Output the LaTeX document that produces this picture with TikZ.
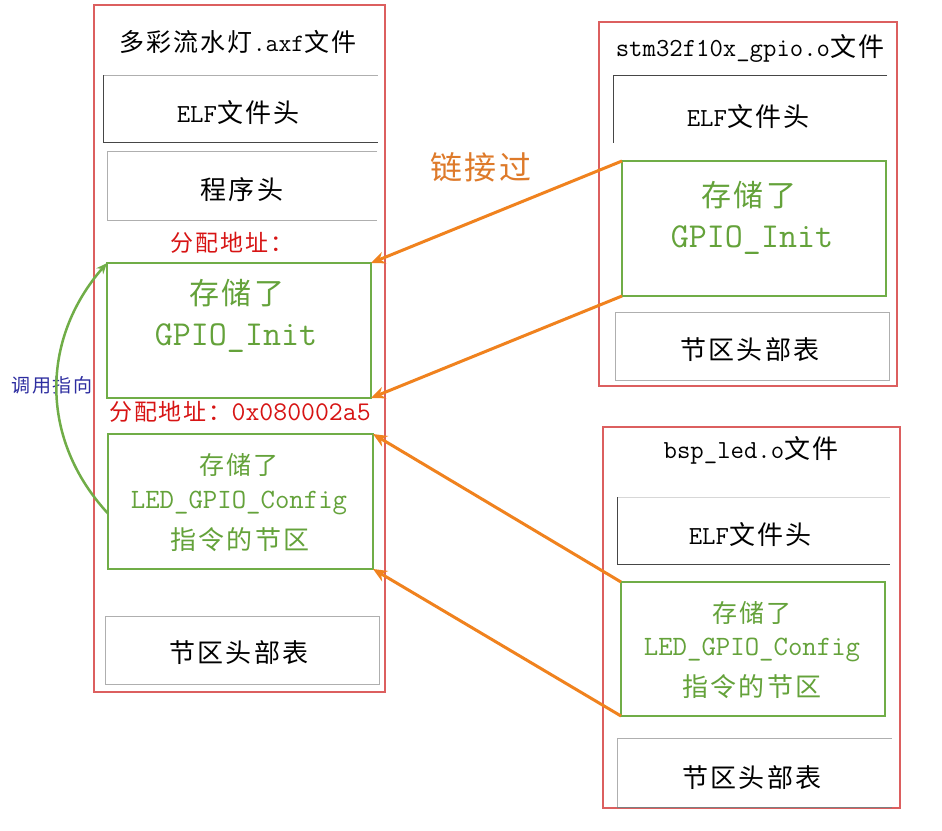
\documentclass[tikz,border=0pt]{standalone}
\usepackage{fontspec}
\newfontfamily\cjk{Noto Sans CJK SC}[LetterSpace=8]
\usetikzlibrary{arrows.meta,fit}
\definecolor{boxred}{RGB}{220,95,95}
\definecolor{grn}{RGB}{112,173,71}
\definecolor{grntxt}{RGB}{100,162,58}
\definecolor{org}{RGB}{240,130,30}
\definecolor{orgtxt}{RGB}{222,122,42}
\definecolor{addr}{RGB}{215,20,20}
\definecolor{navy}{RGB}{45,45,160}
\definecolor{lgray}{RGB}{175,175,175}
\definecolor{dgray}{RGB}{70,70,70}
\newcommand\fsz[2]{\fontsize{#1}{#2}\selectfont}
\begin{document}
\begin{tikzpicture}[x=1pt,y=-1pt,
  outerbox/.style={draw=boxred,line width=1.4pt,inner sep=0pt,outer sep=0pt},
  plainbox/.style={inner sep=0pt,outer sep=0pt},
  grayline/.style={draw=lgray,line width=0.9pt},
  darkline/.style={draw=dgray,line width=0.9pt},
  greenbox/.style={draw=grn,line width=1.3pt,inner sep=0pt,outer sep=0pt},
  txt/.style={inner sep=0pt,outer sep=0pt,anchor=center},
  blacktxt/.style={txt,text=black,font=\fsz{26}{30}\ttfamily},
  greentxt/.style={txt,text=grntxt},
  addrtxt/.style={txt,text=addr,font=\fsz{27}{31}\ttfamily},
  oarrow/.style={draw=org,line width=3pt,-{Stealth[length=14pt,width=12pt]}},
  garrow/.style={draw=grn,line width=2.5pt,-{Stealth[length=11pt,width=9pt]}}
]
\useasboundingbox (0,0) rectangle (942,830);
\fill[white] (0,0) rectangle (942,830);

% ---------- left file ----------
\node[outerbox,fit={(94,5) (385,692)}] (L) {};
\node[blacktxt,font=\fsz{25}{30}\ttfamily] (Lt) at (238,42) {{\cjk 多彩流水灯}.axf{\cjk 文件}};

\node[plainbox,fit={(103,75) (378,142)}] (Lelf) {};
\draw[grayline] (Lelf.north west) -- (Lelf.north east);
\draw[darkline] (Lelf.north west) -- (Lelf.south west) -- (Lelf.south east);
\node[blacktxt] (Lelft) at (238,113) {ELF{\cjk 文件头}};

\node[plainbox,fit={(107,151) (377,220)}] (Lph) {};
\draw[grayline] (Lph.north east) -- (Lph.north west) -- (Lph.south west) -- (Lph.south east);
\node[blacktxt] (Lpht) at (242,190) {{\cjk 程序头}};

\node[addrtxt] (La1) at (232,243) {{\cjk\fsz{23}{27}分配地址：}};

\node[greenbox,fit={(107,263) (371,398)}] (Lg) {};
\node[greentxt,font=\fsz{30}{34}\cjk] (Lg1) at (237,293) {存储了};
\node[greentxt,font=\fsz{35}{40}\ttfamily] (Lg2) at (236,338) {GPIO\_Init};

\node[addrtxt] (La2) at (240,412) {{\cjk\fsz{23}{27}分配地址：}0x080002a5};

\node[greenbox,fit={(108,434) (373,569)}] (Lled) {};
\node[greentxt,font=\fsz{25}{30}\cjk] (Lled1) at (239,465) {存储了};
\node[greentxt,font=\fsz{28}{32}\ttfamily] (Lled2) at (239,503) {LED\_GPIO\_Config};
\node[greentxt,font=\fsz{26}{30}\cjk] (Lled3) at (240,540) {指令的节区};

\node[plainbox,draw=lgray,line width=0.9pt,fit={(105,616) (379,684)}] (Lsh) {};
\node[blacktxt] (Lsht) at (239,653) {{\cjk 节区头部表}};

% ---------- right top file ----------
\node[outerbox,fit={(599,22) (897,386)}] (R) {};
\node[blacktxt] (Rt) at (750,48) {stm32f10x\_gpio.o{\cjk 文件}};

\node[plainbox,fit={(613,75) (887,143)}] (Relf) {};
\draw[darkline] (Relf.north east) -- (Relf.north west) -- (Relf.south west);
\node[blacktxt] (Relft) at (748,117) {ELF{\cjk 文件头}};

\node[greenbox,fit={(622,161) (886,296)}] (Rg) {};
\node[greentxt,font=\fsz{30}{34}\cjk] (Rg1) at (749,195) {存储了};
\node[greentxt,font=\fsz{35}{40}\ttfamily] (Rg2) at (752,240) {GPIO\_Init};

\node[plainbox,draw=lgray,line width=0.9pt,fit={(615,312) (889,380)}] (Rsh) {};
\node[blacktxt] (Rsht) at (750,350) {{\cjk 节区头部表}};

% ---------- right bottom file ----------
\node[outerbox,fit={(603,427) (900,808)}] (B) {};
\node[blacktxt] (Bt) at (751,450) {bsp\_led.o{\cjk 文件}};

\node[plainbox,fit={(617,497) (890,564)}] (Belf) {};
\draw[grayline,draw=lgray!50] (Belf.north west) -- (Belf.north east);
\draw[darkline] (Belf.north west) -- (Belf.south west) -- (Belf.south east);
\node[blacktxt] (Belft) at (750,535) {ELF{\cjk 文件头}};

\node[greenbox,fit={(621,582) (885,716)}] (Bg) {};
\node[greentxt,font=\fsz{25}{30}\cjk] (Bg1) at (752,613) {存储了};
\node[greentxt,font=\fsz{28}{32}\ttfamily] (Bg2) at (752,650) {LED\_GPIO\_Config};
\node[greentxt,font=\fsz{26}{30}\cjk] (Bg3) at (752,687) {指令的节区};

\node[plainbox,fit={(617,738) (892,807)}] (Bsh) {};
\draw[grayline] (Bsh.south west) -- (Bsh.north west) -- (Bsh.north east);
\draw[darkline,draw=dgray!70] (Bsh.south west) -- (Bsh.south east);
\node[blacktxt] (Bsht) at (752,778) {{\cjk 节区头部表}};

% ---------- labels ----------
\node[txt,text=orgtxt,font=\fsz{32}{36}\cjk] (link) at (481,167) {链接过};
\node[txt,text=navy,font=\fsz{19}{22}\cjk] (call) at (52,385) {调用指向};

% ---------- connectors ----------
\draw[oarrow] (Rg.north west) -- (Lg.north east);
\draw[oarrow] (Rg.south west) -- (Lg.south east);
\draw[oarrow] (Bg.north west) -- (Lled.north east);
\draw[oarrow] (Bg.south west) -- (Lled.south east);
\draw[garrow] ([yshift=-12pt]Lled.west) .. controls (40,440) and (40,340) .. (Lg.north west);
\end{tikzpicture}
\end{document}
